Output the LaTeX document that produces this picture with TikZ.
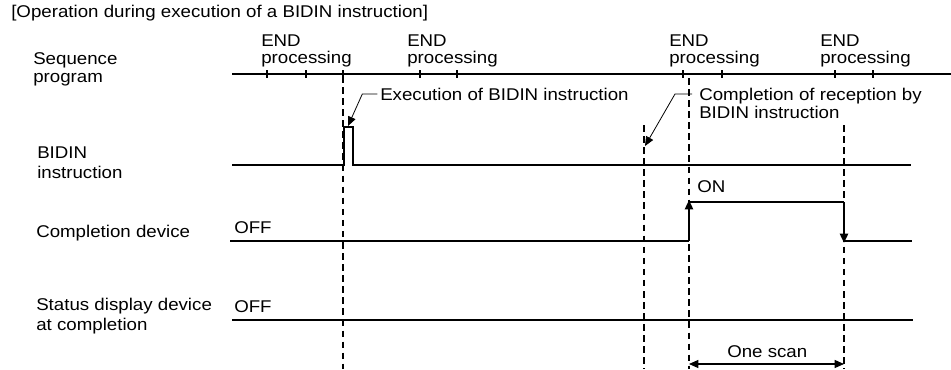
\documentclass[tikz,border=0pt]{standalone}
\usepackage{fontspec}
\setmainfont{Liberation Sans}[FakeStretch=1.1]
\usetikzlibrary{arrows.meta, positioning}

\begin{document}
\begin{tikzpicture}[
  x=0.75pt, y=-0.75pt,
  font=\fontsize{12.75pt}{15pt}\selectfont,
  txt/.style={inner sep=0pt, anchor=base west, align=left},
  endtxt/.style={txt, font=\fontsize{12.75pt}{12.5pt}\selectfont},
  signal/.style={line width=1.8pt},
  tickmark/.style={line width=1.3pt},
  guide/.style={line width=0.8pt, dash pattern=on 4.9pt off 3.4pt},
  edge/.style={signal, -{Triangle[length=7pt, width=6pt]}},
  leader/.style={line width=0.6pt, -{Triangle[length=7pt, width=6pt]}},
  span/.style={line width=0.9pt, {Triangle[length=7pt, width=6pt]}-{Triangle[length=7pt, width=6pt]}},
]
\useasboundingbox (0,0) rectangle (951,369);

% ---- Row labels (left side) ----
\node[txt] (title) at (11,17) {[Operation during execution of a BIDIN instruction]};
\node[txt] (seq) at (33,82) {Sequence\\[-2pt]program};
\node[txt] (bidin) at (37,178) {BIDIN\\instruction};
\node[txt] (cdev) at (36,237) {Completion device};
\node[txt] (sdev) at (36,330) {Status display device\\at completion};

% ---- Sequence program: scan axis ----
\draw[signal] (232,74) -- (951,74);
\foreach \x in {267,306,343,420,457,683,722,835,873}
  \draw[tickmark] (\x,70) -- (\x,78);
\foreach \x/\n in {261/end1, 407/end2, 669/end3, 820/end4}
  \node[endtxt] (\n) at (\x,63.5) {END\\processing};

% ---- Timing guides ----
\draw[guide] (343,76) -- (343,369);
\draw[guide] (644,125) -- (644,369);
\draw[guide] (689,78) -- (689,369);
\draw[guide] (844,125) -- (844,369);

% ---- BIDIN instruction ----
\draw[signal] (232,165) -- (344,165) -- (344,127) -- (353,127) -- (353,165) -- (911,165);
\node[txt] (exec) at (380,100) {Execution of BIDIN instruction};
\coordinate (exectip) at (348,126);
\draw[leader] ([xshift=-2pt]exec.west) -- ++(-15,0) -- (exectip);

\node[txt] (recv) at (699,118) {Completion of reception by\\[-2pt]BIDIN instruction};
\coordinate (recvfoot) at (692,94);
\coordinate (recvtip) at (645,146);
\draw[leader] (recvfoot) -- ++(-17,0) -- (recvtip);

% ---- Completion device ----
\node[txt] (off1) at (234,233) {OFF};
\node[txt] (on1) at (697,192) {ON};
\draw[signal] (230,241) -- (689,241);
\draw[edge] (689,241) -- (689,200);
\draw[signal] (689,202) -- (844,202);
\draw[edge] (844,202) -- (844,243);
\draw[signal] (844,241) -- (912,241);

% ---- Status display device ----
\node[txt] (off2) at (234,312) {OFF};
\draw[signal] (232,320) -- (913,320);

% ---- One scan ----
\node[txt] (scan) at (727,357) {One scan};
\draw[span] (689,364) -- (844,364);

\end{tikzpicture}
\end{document}
